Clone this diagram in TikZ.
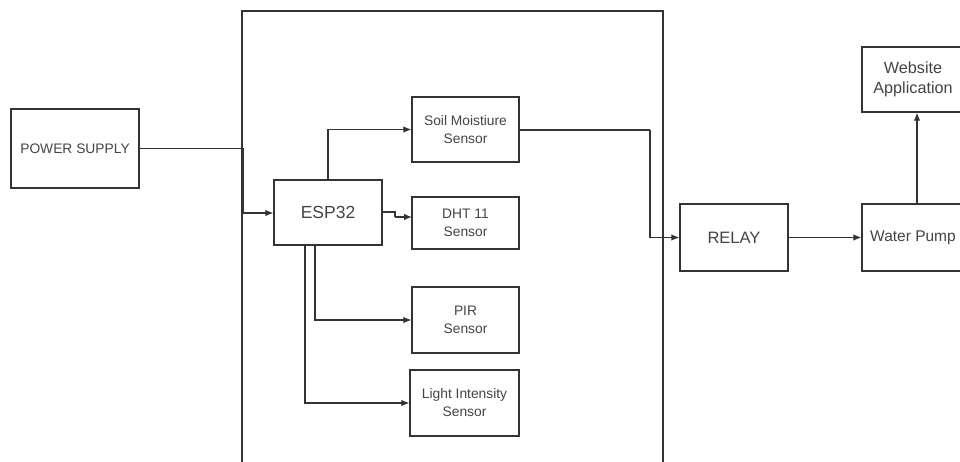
\documentclass[tikz,border=0pt]{standalone}
\usepackage{fontspec}
\setmainfont{Liberation Sans}
\usetikzlibrary{arrows.meta}
\definecolor{ln}{HTML}{333333}
\definecolor{tx}{HTML}{444444}
\begin{document}
\begin{tikzpicture}[x=1pt,y=-1pt,
  blk/.style={draw=ln,line width=1.3pt,rectangle,inner sep=0pt,align=center,text=tx},
  big/.style={font=\fontsize{16.5}{18}\selectfont},
  small/.style={font=\fontsize{13.8}{18}\selectfont},
  arr/.style={draw=ln,line width=1.1pt,-{Latex[length=8pt,width=6.5pt]}},
  ln/.style={draw=ln,line width=1.1pt}]
\useasboundingbox (0,0) rectangle (960,461);
\clip (0,0) rectangle (960,461);
\fill[white] (0,0) rectangle (960,461);
% big enclosure
\coordinate (bbl) at (242,475);
\coordinate (btl) at (242,11);
\coordinate (btr) at (663,11);
\coordinate (bbr) at (663,475);
\draw[ln,line width=1.3pt] (bbl) -- (btl) -- (btr) -- (bbr);
% nodes
\node[blk,minimum width=128pt,minimum height=79pt,font=\fontsize{13.8}{16}\selectfont] (ps) at (75,148.5) {POWER SUPPLY};
\node[blk,minimum width=108pt,minimum height=65pt,font=\fontsize{17.5}{20}\selectfont] (esp) at (328,212.5) {ESP32};
\node[blk,small,minimum width=107pt,minimum height=65pt] (soil) at (465.5,129.5) {Soil Moistiure\\Sensor};
\node[blk,small,minimum width=107pt,minimum height=52pt] (dht) at (465.5,223) {DHT 11\\Sensor};
\node[blk,small,minimum width=107pt,minimum height=66pt] (pir) at (465.5,320) {PIR\\Sensor};
\node[blk,small,minimum width=109pt,minimum height=66pt] (light) at (464.5,403) {Light Intensity\\Sensor};
\node[blk,big,minimum width=108pt,minimum height=67pt] (relay) at (734,237.5) {RELAY};
\node[blk,minimum width=102pt,minimum height=67pt,font=\fontsize{15.5}{18}\selectfont] (pump) at (913,237.5) {Water Pump};
\node[blk,minimum width=102pt,minimum height=65pt,font=\fontsize{16.2}{20}\selectfont] (web) at (913,79.5) {Website\\Application};
% helper coordinates
\coordinate (j1) at (243,148.5);
\coordinate (j2) at (243,213);
\coordinate (d1) at (395,212);
\coordinate (d2) at (395,217);
\coordinate (dh) at (412,217);
\coordinate (p1) at (315,245);
\coordinate (l1) at (305,245);
\coordinate (s1) at (650,130);
% connectors
\draw[ln] (ps.east) -- (j1) -- (j2);
\draw[arr] (j2) -- (esp.west |- j2);
\draw[arr] (esp.north) |- (soil.west);
\draw[ln] (esp.east |- d1) -- (d1) -- (d2);
\draw[arr] (d2) -- (dh);
\draw[arr] (p1) |- (pir.west);
\draw[arr] (l1) |- (light.west);
\draw[ln] (soil.east |- s1) -- (s1);
\draw[arr] (s1) |- (relay.west);
\draw[arr] (relay.east) -- (pump.west);
\draw[arr] ([xshift=4pt]pump.north) -- ([xshift=4pt]web.south);
\end{tikzpicture}
\end{document}
